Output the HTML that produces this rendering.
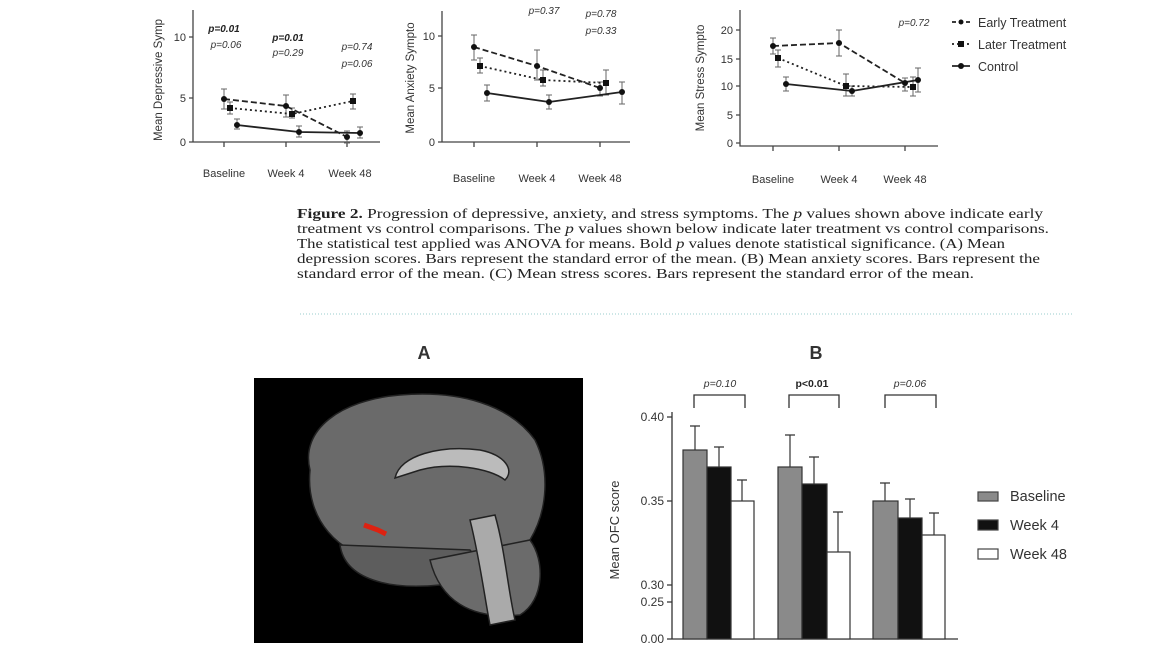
<!DOCTYPE html>
<html><head><meta charset="utf-8"><style>
html,body{margin:0;padding:0;background:#fff;width:1160px;height:653px;overflow:hidden}
svg{display:block}
.t{font-family:"Liberation Sans",sans-serif;fill:#333}
.cap{font-family:"Liberation Serif",serif;font-size:14px;fill:#222}
</style></head><body>
<svg width="1160" height="653" viewBox="0 0 1160 653" xmlns="http://www.w3.org/2000/svg">
<g stroke="#444" fill="none" stroke-width="1.3">
<path d="M193 10V142H380M224 142v5M286 142v5M347 142v5M189 37h4M189 98h4M189 142h4"/>
<path d="M442 11V142H630M474 142v5M537 142v5M600 142v5M438 36h4M438 88h4M438 142h4"/>
<path d="M740 10V146H938M773 146v5M839 146v5M905 146v5M736 30h4M736 59h4M736 86h4M736 115h4M736 143h4"/>
</g>
<g class="t" font-size="11" text-anchor="end">
<text x="186" y="41">10</text><text x="186" y="102">5</text><text x="186" y="146">0</text>
<text x="435" y="40">10</text><text x="435" y="92">5</text><text x="435" y="146">0</text>
<text x="733" y="34">20</text><text x="733" y="63">15</text><text x="733" y="90">10</text><text x="733" y="119">5</text><text x="733" y="147">0</text>
</g>
<g class="t" font-size="11" text-anchor="middle">
<text x="224" y="177">Baseline</text><text x="286" y="177">Week 4</text><text x="350" y="177">Week 48</text>
<text x="474" y="182">Baseline</text><text x="537" y="182">Week 4</text><text x="600" y="182">Week 48</text>
<text x="773" y="183">Baseline</text><text x="839" y="183">Week 4</text><text x="905" y="183">Week 48</text>
</g>
<g class="t" font-size="11.5" text-anchor="middle">
<text transform="translate(162,80) rotate(-90)">Mean Depressive Symp</text>
<text transform="translate(414,78) rotate(-90)">Mean Anxiety Sympto</text>
<text transform="translate(704,78) rotate(-90)">Mean Stress Sympto</text>
</g>
<g class="t" font-size="10" fill="#555" text-anchor="middle" font-style="italic">
<text x="224" y="32" font-weight="bold" fill="#222">p=0.01</text><text x="226" y="48">p=0.06</text>
<text x="288" y="41" font-weight="bold" fill="#222">p=0.01</text><text x="288" y="56">p=0.29</text>
<text x="357" y="50">p=0.74</text><text x="357" y="67">p=0.06</text>
<text x="544" y="14">p=0.37</text><text x="601" y="17">p=0.78</text><text x="601" y="34">p=0.33</text>
<text x="914" y="26">p=0.72</text>
</g>
<g stroke="#666" stroke-width="1" fill="none">
<path d="M224 89v20M221 89h6M221 109h6M286 95v22M283 95h6M283 117h6M347 131v12M344 131h6M344 143h6M230 102v12M227 102h6M227 114h6M292 108v10M289 108h6M289 118h6M353 94v15M350 94h6M350 109h6M237 119v10M234 119h6M234 129h6M299 126v11M296 126h6M296 137h6M360 127v11M357 127h6M357 138h6"/>
<path d="M474 35v25M471 35h6M471 60h6M537 50v30M534 50h6M534 80h6M600 82v14M597 82h6M597 96h6M480 58v15M477 58h6M477 73h6M543 70v16M540 70h6M540 86h6M606 70v25M603 70h6M603 95h6M487 85v16M484 85h6M484 101h6M549 95v14M546 95h6M546 109h6M622 82v22M619 82h6M619 104h6"/>
<path d="M773 38v16M770 38h6M770 54h6M839 30v26M836 30h6M836 56h6M905 78v13M902 78h6M902 91h6M778 50v17M775 50h6M775 67h6M846 74v22M843 74h6M843 96h6M913 77v19M910 77h6M910 96h6M786 77v14M783 77h6M783 91h6M852 86v10M849 86h6M849 96h6M918 68v24M915 68h6M915 92h6"/>
</g>
<g fill="none" stroke="#222" stroke-width="1.8">
<path d="M224 99L286 106L347 137M474 47L537 66L600 88M773 46L839 43L905 83" stroke-dasharray="6,3"/>
<path d="M230 108L292 114L353 101M480 66L543 80L606 83M778 58L846 86L913 87" stroke-dasharray="2,3"/>
<path d="M237 125L299 132L360 133M487 93L549 102L622 92M786 84L852 91L918 80"/>
</g>
<g fill="#111">
<circle cx="224" cy="99" r="3"/><circle cx="286" cy="106" r="3"/><circle cx="347" cy="137" r="3"/>
<rect x="227" y="105" width="6" height="6"/><rect x="289" y="111" width="6" height="6"/><rect x="350" y="98" width="6" height="6"/>
<circle cx="237" cy="125" r="3"/><circle cx="299" cy="132" r="3"/><circle cx="360" cy="133" r="3"/>
<circle cx="474" cy="47" r="3"/><circle cx="537" cy="66" r="3"/><circle cx="600" cy="88" r="3"/>
<rect x="477" y="63" width="6" height="6"/><rect x="540" y="77" width="6" height="6"/><rect x="603" y="80" width="6" height="6"/>
<circle cx="487" cy="93" r="3"/><circle cx="549" cy="102" r="3"/><circle cx="622" cy="92" r="3"/>
<circle cx="773" cy="46" r="3"/><circle cx="839" cy="43" r="3"/><circle cx="905" cy="83" r="3"/>
<rect x="775" y="55" width="6" height="6"/><rect x="843" y="83" width="6" height="6"/><rect x="910" y="84" width="6" height="6"/>
<circle cx="786" cy="84" r="3"/><circle cx="852" cy="91" r="3"/><circle cx="918" cy="80" r="3"/>
</g>
<g stroke="#222" stroke-width="1.8" fill="none">
<path d="M952 22h18" stroke-dasharray="4,3"/><path d="M952 44h18" stroke-dasharray="2,3"/><path d="M952 66h18"/>
</g>
<g fill="#111"><circle cx="961" cy="22" r="2.5"/><rect x="958" y="41" width="6" height="6"/><circle cx="961" cy="66" r="3"/></g>
<g class="t" font-size="12.5" fill="#222"><text x="978" y="27">Early Treatment</text><text x="978" y="49">Later Treatment</text><text x="978" y="71">Control</text></g>
<g class="cap">
<text x="297" y="218" textLength="746" lengthAdjust="spacingAndGlyphs"><tspan font-weight="bold">Figure 2.</tspan>  Progression of depressive, anxiety, and stress symptoms. The <tspan font-style="italic">p</tspan> values shown above indicate early</text>
<text x="297" y="233" textLength="752" lengthAdjust="spacingAndGlyphs">treatment vs control comparisons. The <tspan font-style="italic">p</tspan> values shown below indicate later treatment vs control comparisons.</text>
<text x="297" y="248" textLength="708" lengthAdjust="spacingAndGlyphs">The statistical test applied was ANOVA for means. Bold <tspan font-style="italic">p</tspan> values denote statistical significance. (A) Mean</text>
<text x="297" y="263" textLength="743" lengthAdjust="spacingAndGlyphs">depression scores. Bars represent the standard error of the mean. (B) Mean anxiety scores. Bars represent the</text>
<text x="297" y="278" textLength="677" lengthAdjust="spacingAndGlyphs">standard error of the mean. (C) Mean stress scores. Bars represent the standard error of the mean.</text>
</g>
<path d="M300 314H1073" stroke="#9cc" stroke-width="1" stroke-dasharray="1,2"/>
<g class="t" font-size="18" font-weight="bold" fill="#111" text-anchor="middle"><text x="424" y="359">A</text><text x="816" y="359">B</text></g>
<rect x="254" y="378" width="329" height="265" fill="#000"/>
<g stroke="#222" stroke-width="1.5">
<path d="M310 470C300 430 340 400 400 395C460 390 510 405 535 440C550 470 548 510 530 540L460 560L380 560C340 555 305 520 310 470Z" fill="#6a6a6a"/>
<path d="M340 545C345 580 390 590 440 585C470 580 480 560 470 550Z" fill="#5d5d5d"/>
<path d="M430 560C440 600 470 620 520 615C545 600 545 560 530 540Z" fill="#6b6b6b"/>
<path d="M470 520C480 560 485 600 490 625L515 620C508 590 505 550 495 515Z" fill="#aaa"/>
<path d="M395 478C400 455 440 445 480 450C505 455 515 470 505 480C490 468 450 462 420 470Z" fill="#bbb"/>
</g>
<path d="M364 525L378 530L386 534" stroke="#d21" stroke-width="5" fill="none"/>
<g stroke="#333" stroke-width="1.3" fill="none">
<path d="M672 412V639H958M667 417h5M667 501h5M667 585h5M667 602h5M667 639h5"/>
<path d="M694 408V395H745V408M789 408V395H839V408M885 408V395H936V408"/>
</g>
<g stroke="#333" stroke-width="1.2">
<rect x="683" y="450" width="24" height="189" fill="#8a8a8a"/>
<rect x="707" y="467" width="24" height="172" fill="#111"/>
<rect x="731" y="501" width="23" height="138" fill="#fff"/>
<rect x="778" y="467" width="24" height="172" fill="#8a8a8a"/>
<rect x="802" y="484" width="25" height="155" fill="#111"/>
<rect x="827" y="552" width="23" height="87" fill="#fff"/>
<rect x="873" y="501" width="25" height="138" fill="#8a8a8a"/>
<rect x="898" y="518" width="24" height="121" fill="#111"/>
<rect x="922" y="535" width="23" height="104" fill="#fff"/>
<path fill="none" d="M695 450V426M690 426h10M719 467V447M714 447h10M742 501V480M737 480h10M790 467V435M785 435h10M814 484V457M809 457h10M838 552V512M833 512h10M885 501V483M880 483h10M910 518V499M905 499h10M934 535V513M929 513h10"/>
</g>
<g class="t" font-size="12" text-anchor="end"><text x="664" y="421">0.40</text><text x="664" y="505">0.35</text><text x="664" y="589">0.30</text><text x="664" y="606">0.25</text><text x="664" y="643">0.00</text></g>
<text class="t" font-size="13" text-anchor="middle" transform="translate(619,530) rotate(-90)">Mean OFC score</text>
<g class="t" font-size="10.5" fill="#666" text-anchor="middle"><text x="720" y="387" font-style="italic">p=0.10</text><text x="812" y="387" font-weight="bold" fill="#222">p&lt;0.01</text><text x="910" y="387" font-style="italic">p=0.06</text></g>
<g stroke="#444" stroke-width="1.2"><rect x="978" y="492" width="20" height="9" fill="#8a8a8a"/><rect x="978" y="520" width="20" height="10" fill="#111"/><rect x="978" y="549" width="20" height="10" fill="#fff"/></g>
<g class="t" font-size="14.5" fill="#222"><text x="1010" y="501">Baseline</text><text x="1010" y="530">Week 4</text><text x="1010" y="559">Week 48</text></g>
</svg>
</body></html>
